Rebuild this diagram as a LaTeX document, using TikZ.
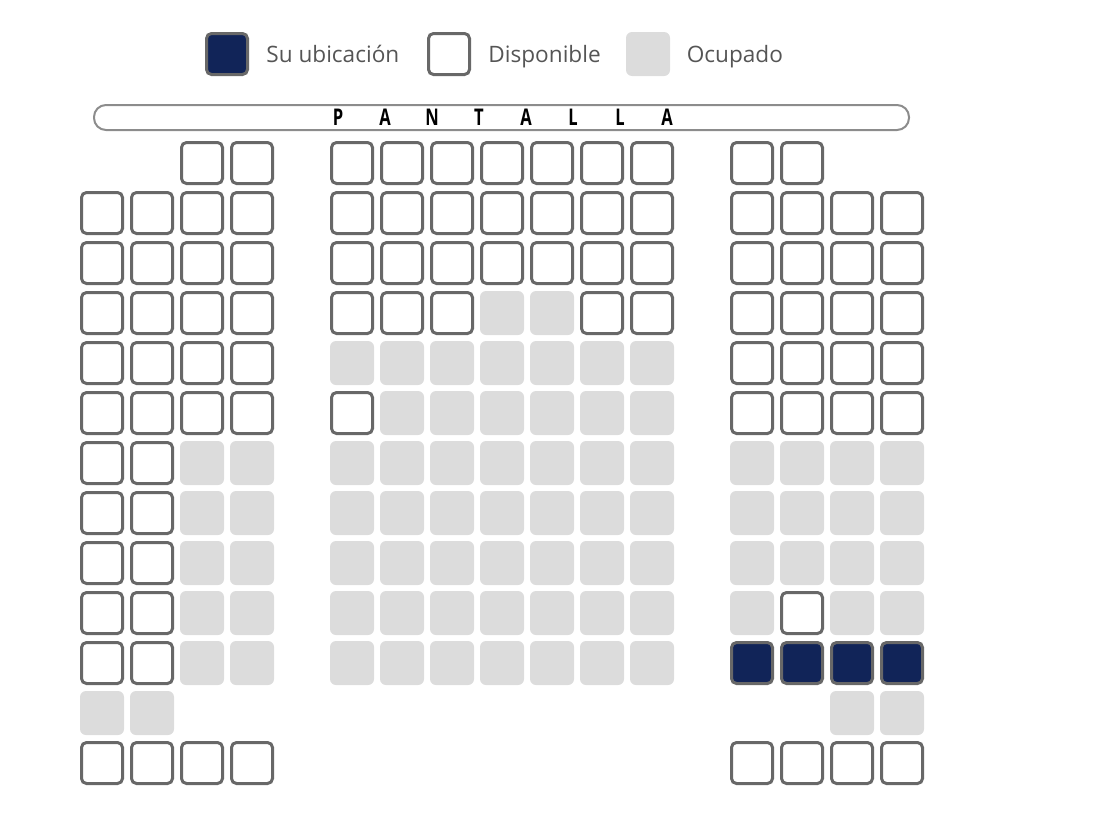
\documentclass[tikz,border=0pt]{standalone}
\usepackage{fontspec}
\setmainfont{Open Sans}
\usepackage{xcolor}
\usepackage{graphicx}
\usetikzlibrary{positioning}
\definecolor{navy}{RGB}{17,36,88}
\definecolor{seatgray}{RGB}{104,104,104}
\definecolor{takengray}{RGB}{220,220,220}
\definecolor{labelgray}{RGB}{85,85,85}
\definecolor{bargray}{RGB}{140,140,140}

\begin{document}
\begin{tikzpicture}[x=0.5pt, y=-0.5pt,
	avail/.style={draw=seatgray, fill=white, line width=1.5pt, rectangle, rounded corners=2.5pt, minimum width=20.5pt, minimum height=20.5pt, inner sep=0pt},
	taken/.style={fill=takengray, rectangle, rounded corners=3pt, minimum width=22pt, minimum height=22pt, inner sep=0pt},
	mine/.style={avail, fill=navy},
	legend/.style={text=labelgray, font=\fontsize{11.3}{13}\selectfont, inner sep=0pt, text height=10pt, text depth=2pt},
	letter/.style={font=\fontsize{11.5}{12}\selectfont\bfseries, inner sep=0pt}
	]
	\useasboundingbox (0,0) rectangle (1096,819);
	
	% leyenda
	\node [mine](leg-mine) at (227,54) {};
	\node [legend](txt-mine) [right=8.5pt of leg-mine] {Su ubicación};
	\node [avail](leg-avail) at (449,54) {};
	\node [legend](txt-avail) [right=8.5pt of leg-avail] {Disponible};
	\node [taken](leg-taken) at (648,54) {};
	\node [legend](txt-taken) [right=8pt of leg-taken] {Ocupado};
	
	% pantalla
	\node [draw=bargray, line width=1pt, rounded corners=6pt, minimum width=407.5pt, minimum height=12.5pt, inner sep=0pt](screen) at (501.5,117.5) {};
	\foreach \l [count=\i from 0] in {P,A,N,T,A,L,L,A}
		\node [letter](scr\i) at (338+47*\i,117.5) {\scalebox{0.72}[1]{\l}};
	
	% butacas
	\foreach \r/\cols in {0/{2,3,5,6,7,8,9,10,11,13,14},
			1/{0,1,2,3,5,6,7,8,9,10,11,13,14,15,16},
			2/{0,1,2,3,5,6,7,8,9,10,11,13,14,15,16},
			3/{0,1,2,3,5,6,7,10,11,13,14,15,16},
			4/{0,1,2,3,13,14,15,16},
			5/{0,1,2,3,5,13,14,15,16},
			6/{0,1}, 7/{0,1}, 8/{0,1}, 9/{0,1,14}, 10/{0,1},
			12/{0,1,2,3,13,14,15,16}}
		\foreach \g in \cols
			\node [avail](s\r-\g) at (102+50*\g,163+50*\r) {};
	
	\foreach \r/\cols in {3/{8,9},
			4/{5,...,11},
			5/{6,...,11},
			6/{2,3,5,6,7,8,9,10,11,13,14,15,16},
			7/{2,3,5,6,7,8,9,10,11,13,14,15,16},
			8/{2,3,5,6,7,8,9,10,11,13,14,15,16},
			9/{2,3,5,6,7,8,9,10,11,13,15,16},
			10/{2,3,5,6,7,8,9,10,11},
			11/{0,1,15,16}}
		\foreach \g in \cols
			\node [taken](s\r-\g) at (102+50*\g,163+50*\r) {};
	
	\foreach \g in {13,...,16}
		\node [mine](s10-\g) at (102+50*\g,663) {};
\end{tikzpicture}
\end{document}
